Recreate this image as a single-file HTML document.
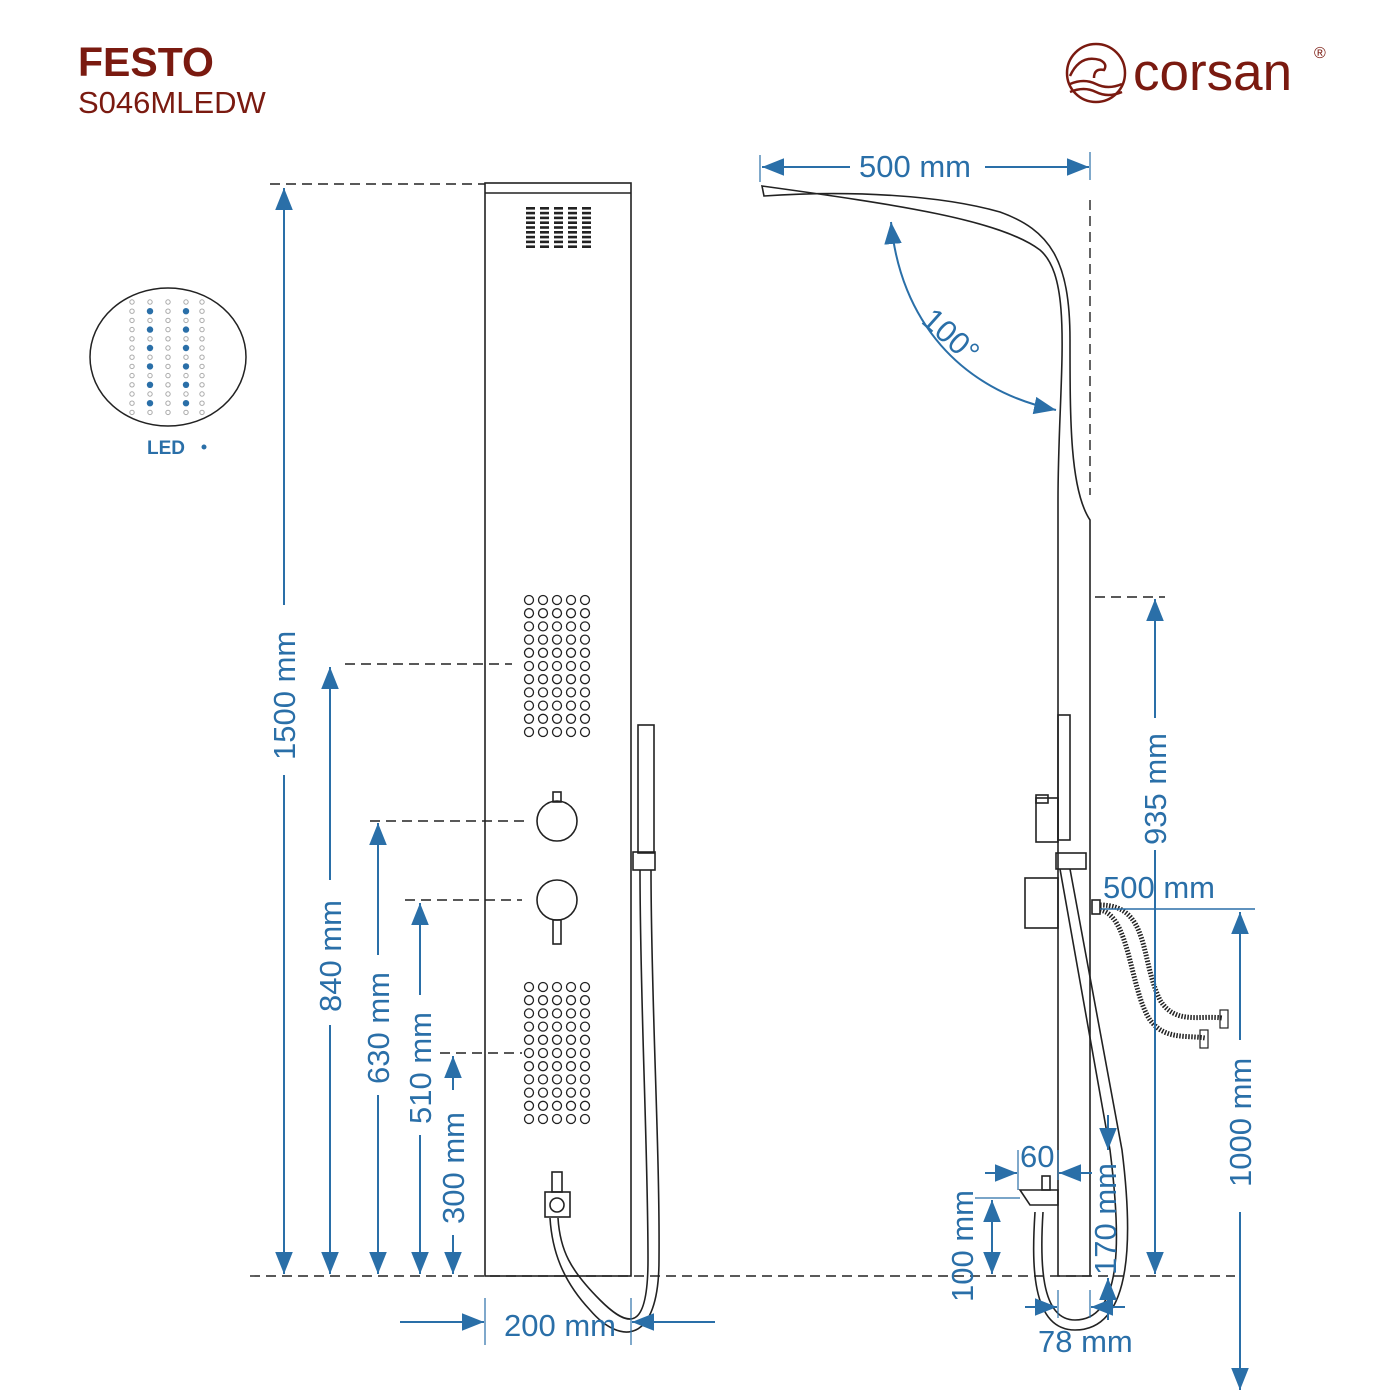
<!DOCTYPE html>
<html><head><meta charset="utf-8"><style>
html,body{margin:0;padding:0;background:#fff}
svg{display:block}
text{font-family:"Liberation Sans",sans-serif}
</style></head><body>
<svg width="1400" height="1400" viewBox="0 0 1400 1400" xmlns="http://www.w3.org/2000/svg">
<defs>
<marker id="a" viewBox="0 0 10 10" refX="10" refY="5" markerWidth="22" markerHeight="22" markerUnits="userSpaceOnUse" orient="auto-start-reverse"><path d="M0,1 L10,5 L0,9 z" fill="#2a6fa8"/></marker>
</defs>
<!-- header -->
<text x="78" y="76" font-size="41" font-weight="bold" fill="#7a1a10">FESTO</text>
<text x="78" y="113" font-size="31" fill="#7a1a10">S046MLEDW</text>
<g fill="none" stroke="#7a1a10" stroke-width="2.5">
<circle cx="1096" cy="73" r="29"/>
<path d="M1070,84 q14,-6 26,0 t26,0"/><path d="M1070,92 q14,-6 26,0 t26,0"/><path d="M1070,76 q10,-22 30,-16 q8,4 4,10 q-10,-2 -10,8"/>
</g>
<text x="1133" y="90" font-size="53" fill="#7a1a10">corsan</text>
<text x="1314" y="58" font-size="16" fill="#7a1a10">®</text>

<!-- LED detail -->
<ellipse cx="168" cy="357" rx="78" ry="69" fill="none" stroke="#222" stroke-width="1.5"/>
<g id="led"></g>
<text x="147" y="454" font-size="19" font-weight="bold" fill="#2a6fa8">LED</text>
<circle cx="204" cy="447" r="2.5" fill="#2a6fa8"/>

<g stroke="#222" fill="none" stroke-width="1.6">
<rect x="485" y="183" width="146" height="1093"/>
<line x1="485" y1="193" x2="631" y2="193"/>
<circle cx="557" cy="821" r="20"/><rect x="553" y="792" width="8" height="10"/>
<circle cx="557" cy="900" r="20"/><rect x="553" y="920" width="8" height="24"/>
<rect x="545" y="1192" width="25" height="25"/><circle cx="557" cy="1205" r="7"/><rect x="552" y="1172" width="10" height="20"/>
<rect x="638" y="725" width="16" height="128"/>
<rect x="633" y="852" width="22" height="18"/>
<path d="M640,870 C640,1000 648,1150 648,1260 C648,1330 630,1330 600,1300 C570,1270 560,1250 558,1218"/>
<path d="M651,870 C651,1000 660,1150 659,1260 C659,1345 620,1345 590,1310 C562,1280 552,1250 550,1218"/>
<path d="M762,186 C900,205 1000,220 1040,250 C1075,280 1058,380 1058,500 L1058,1276 L1090,1276 L1090,520 C1070,490 1070,420 1070,340 C1070,260 1050,230 1000,212 C940,195 850,190 764,196 z"/>
<rect x="1036" y="798" width="22" height="44"/><rect x="1036" y="795" width="12" height="8"/>
<rect x="1025" y="878" width="33" height="50"/>
<rect x="1058" y="715" width="12" height="125"/>
<rect x="1056" y="853" width="30" height="16"/>
<path d="M1060,869 L1110,1150 C1120,1230 1125,1320 1075,1320 C1040,1320 1040,1260 1043,1212"/>
<path d="M1070,869 L1122,1150 C1132,1230 1135,1330 1075,1330 C1030,1330 1032,1260 1035,1212"/>
<path d="M1020,1190 L1058,1190 L1058,1205 L1030,1205 z"/><rect x="1042" y="1176" width="8" height="14"/>
<rect x="1092" y="900" width="8" height="14"/>
</g>
<g fill="none" stroke="#222" stroke-width="5" stroke-dasharray="1.5 1.5">
<path d="M1100,905 C1150,905 1140,960 1160,1000 C1175,1025 1200,1015 1222,1018"/>
<path d="M1100,910 C1130,915 1130,990 1150,1020 C1165,1040 1185,1035 1205,1038"/>
</g>
<g fill="none" stroke="#222" stroke-width="1.2">
<rect x="1220" y="1010" width="8" height="18"/><rect x="1200" y="1030" width="8" height="18"/>
</g>

<g stroke="#2a6fa8" stroke-width="2" fill="none">
<line x1="284" y1="188" x2="284" y2="605" marker-start="url(#a)"/><line x1="284" y1="775" x2="284" y2="1274" marker-end="url(#a)"/>
<line x1="330" y1="667" x2="330" y2="880" marker-start="url(#a)"/><line x1="330" y1="1025" x2="330" y2="1274" marker-end="url(#a)"/>
<line x1="378" y1="823" x2="378" y2="955" marker-start="url(#a)"/><line x1="378" y1="1095" x2="378" y2="1274" marker-end="url(#a)"/>
<line x1="420" y1="903" x2="420" y2="995" marker-start="url(#a)"/><line x1="420" y1="1135" x2="420" y2="1274" marker-end="url(#a)"/>
<line x1="453" y1="1056" x2="453" y2="1090" marker-start="url(#a)"/><line x1="453" y1="1235" x2="453" y2="1274" marker-end="url(#a)"/>
<line x1="400" y1="1322" x2="484" y2="1322" marker-end="url(#a)"/><line x1="715" y1="1322" x2="632" y2="1322" marker-end="url(#a)"/>
<line x1="762" y1="167" x2="850" y2="167" marker-start="url(#a)"/><line x1="985" y1="167" x2="1089" y2="167" marker-end="url(#a)"/>
<path d="M891,222 C900,320 960,390 1056,410" marker-start="url(#a)" marker-end="url(#a)"/>
<line x1="1155" y1="599" x2="1155" y2="718" marker-start="url(#a)"/><line x1="1155" y1="850" x2="1155" y2="1274" marker-end="url(#a)"/>
<line x1="1240" y1="912" x2="1240" y2="1040" marker-start="url(#a)"/><line x1="1240" y1="1212" x2="1240" y2="1390" marker-end="url(#a)"/>
<line x1="1100" y1="909" x2="1255" y2="909" stroke-width="1.5"/>
<line x1="985" y1="1173" x2="1017" y2="1173" marker-end="url(#a)"/><line x1="1092" y1="1173" x2="1059" y2="1173" marker-end="url(#a)"/>
<line x1="992" y1="1200" x2="992" y2="1274" marker-start="url(#a)" marker-end="url(#a)"/>
<line x1="1108" y1="1115" x2="1108" y2="1150" marker-end="url(#a)"/><line x1="1108" y1="1320" x2="1108" y2="1278" marker-end="url(#a)"/>
<line x1="1025" y1="1307" x2="1057" y2="1307" marker-end="url(#a)"/><line x1="1125" y1="1307" x2="1091" y2="1307" marker-end="url(#a)"/>
<g stroke-width="1.2">
<line x1="485" y1="1298" x2="485" y2="1345"/><line x1="631" y1="1298" x2="631" y2="1345"/>
<line x1="760" y1="155" x2="760" y2="182"/><line x1="1090" y1="152" x2="1090" y2="180"/>
<line x1="1018" y1="1150" x2="1018" y2="1190"/><line x1="1058" y1="1150" x2="1058" y2="1180"/>
<line x1="975" y1="1198" x2="1020" y2="1198"/>
<line x1="1058" y1="1290" x2="1058" y2="1318"/><line x1="1090" y1="1290" x2="1090" y2="1318"/>
</g>
</g>
<g stroke="#222" stroke-width="1.4" stroke-dasharray="10 6" fill="none">
<line x1="270" y1="184" x2="485" y2="184"/>
<line x1="345" y1="664" x2="512" y2="664"/>
<line x1="370" y1="821" x2="525" y2="821"/>
<line x1="405" y1="900" x2="522" y2="900"/>
<line x1="440" y1="1053" x2="522" y2="1053"/>
<line x1="250" y1="1276" x2="1235" y2="1276"/>
<line x1="1090" y1="200" x2="1090" y2="495"/>
<line x1="1095" y1="597" x2="1165" y2="597"/>
</g>
<g font-size="31" fill="#2a6fa8">
<text transform="translate(295,760) rotate(-90)">1500 mm</text>
<text transform="translate(341,1012) rotate(-90)">840 mm</text>
<text transform="translate(389,1084) rotate(-90)">630 mm</text>
<text transform="translate(431,1124) rotate(-90)">510 mm</text>
<text transform="translate(464,1224) rotate(-90)">300 mm</text>
<text x="504" y="1336">200 mm</text>
<text x="859" y="177">500 mm</text>
<text transform="translate(920,322) rotate(42)">100°</text>
<text transform="translate(1166,845) rotate(-90)">935 mm</text>
<text transform="translate(1251,1187) rotate(-90)">1000 mm</text>
<text x="1103" y="898">500 mm</text>
<text x="1020" y="1167">60</text>
<text transform="translate(973,1302) rotate(-90)">100 mm</text>
<text transform="translate(1116,1275) rotate(-90)">170 mm</text>
<text x="1038" y="1352">78 mm</text>
</g>
<g id="grids" fill="none" stroke="#222" stroke-width="1.3"></g>
<g id="slots" fill="#222"></g>
</svg>
<script>
var ns="http://www.w3.org/2000/svg";
var g=document.getElementById("grids");
function c(p,x,y,r,at){var e=document.createElementNS(ns,"circle");e.setAttribute("cx",x);e.setAttribute("cy",y);e.setAttribute("r",r);for(var k in at)e.setAttribute(k,at[k]);p.appendChild(e);}
[600,987].forEach(function(y0){for(var i=0;i<5;i++)for(var j=0;j<11;j++)c(g,529+i*14,y0+j*13.2,4.5,{});});
var s=document.getElementById("slots");
for(var i=0;i<5;i++)for(var j=0;j<9;j++){var r=document.createElementNS(ns,"rect");r.setAttribute("x",526+i*14);r.setAttribute("y",207+j*4.8);r.setAttribute("width",9);r.setAttribute("height",2.6);s.appendChild(r);}
var l=document.getElementById("led");
var xs=[132,150,168,186,202];
for(var j=0;j<13;j++)for(var i=0;i<5;i++){var y=302+j*9.2;var blue=(i==1||i==3)&&(j%2==1);
if(blue)c(l,xs[i],y,3.2,{fill:"#2a6fa8"});else c(l,xs[i],y,2.2,{fill:"none",stroke:"#aaa","stroke-width":"1"});}
</script>
</body></html>
